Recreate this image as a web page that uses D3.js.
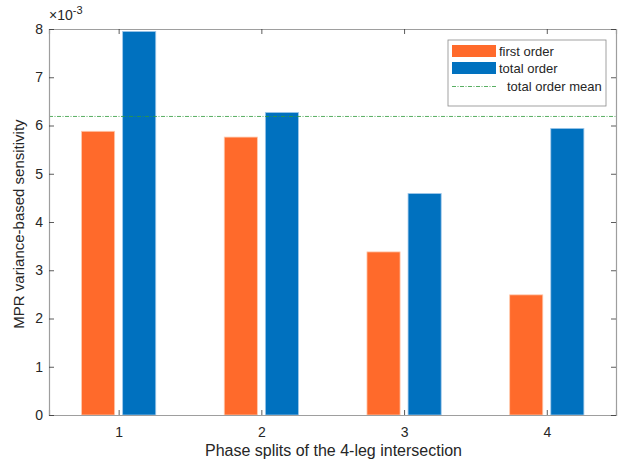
<!DOCTYPE html>
<html>
<head>
<meta charset="utf-8">
<script src="https://cdn.jsdelivr.net/npm/d3@7"></script>
<style>
  html, body { margin: 0; padding: 0; background: #fff; }
  svg { display: block; font-family: "Liberation Sans", Arial, Helvetica, sans-serif; }
</style>
</head>
<body>
<svg id="chart" width="624" height="461"></svg>
<script>
// Sensitivity indices (units of 1e-3) for each phase split
const categories = [1, 2, 3, 4];
const seriesNames = ["first order", "total order"];
const firstOrder = [5.88, 5.76, 3.38, 2.49];
const totalOrder = [7.95, 6.27, 4.59, 5.94];
const totalOrderMean = [d3.mean(totalOrder)];
const yTicks = [0, 1, 2, 3, 4, 5, 6, 7, 8];
const xLabel = "Phase splits of the 4-leg intersection";
const yLabel = "MPR variance-based sensitivity";
const meanLabel = "total order mean";

const colors = { first: "#ff6a2b", total: "#0071bf", mean: "#2f9a3a", axis: "#9e9e9e", text: "#262626" };

const svg = d3.select("#chart");
const plot = { left: 49, right: 616, top: 29, bottom: 415 };

const x = d3.scaleLinear().domain([0.512, 4.485]).range([plot.left, plot.right]);
const y = d3.scaleLinear().domain([0, 8]).range([plot.bottom, plot.top]);

// bar geometry in data units
const barW = 0.232, barOff = 0.144;
const series = [
  { name: seriesNames[0], values: firstOrder, color: colors.first, edge: "#ffc9ad", off: -barOff },
  { name: seriesNames[1], values: totalOrder, color: colors.total, edge: "#9fc8ea", off: barOff }
];

const bars = svg.append("g");
series.forEach(s => {
  bars.selectAll(null)
    .data(categories.map((c, i) => ({ c, v: s.values[i] })))
    .enter().append("rect")
    .attr("x", d => x(d.c + s.off - barW / 2))
    .attr("width", d => x(d.c + s.off + barW / 2) - x(d.c + s.off - barW / 2))
    .attr("y", d => y(d.v))
    .attr("height", d => y(0) - y(d.v))
    .attr("fill", s.color)
    .attr("stroke", s.edge)
    .attr("stroke-width", 0.8);
});

// mean line of the total-order indices
svg.append("line")
  .attr("x1", plot.left).attr("x2", plot.right)
  .attr("y1", y(totalOrderMean[0])).attr("y2", y(totalOrderMean[0]))
  .attr("stroke", colors.mean).attr("stroke-width", 0.8)
  .attr("stroke-dasharray", "4,1.5,1,1.5");

// axes (box with inward ticks)
const tickLen = 5;
const axisBottom = d3.axisBottom(x).tickValues(categories).tickSize(-tickLen).tickPadding(12).tickFormat(d3.format("d"));
const axisTop = d3.axisTop(x).tickValues(categories).tickSize(-tickLen).tickFormat("");
const axisLeft = d3.axisLeft(y).tickValues(yTicks).tickSize(-tickLen).tickPadding(6).tickFormat(d3.format("d"));
const axisRight = d3.axisRight(y).tickValues(yTicks).tickSize(-tickLen).tickFormat("");

function styleAxis(g) {
  g.select(".domain").attr("stroke", colors.axis).attr("stroke-width", 1.2);
  g.selectAll(".tick line").attr("stroke", "#333").attr("stroke-width", 0.8);
  g.selectAll(".tick text").attr("fill", colors.text).attr("font-size", 14)
    .attr("font-family", "'Liberation Sans', Arial, sans-serif");
}

svg.append("g").attr("transform", `translate(0,${plot.bottom})`).call(axisBottom).call(styleAxis);
svg.append("g").attr("transform", `translate(0,${plot.top})`).call(axisTop).call(styleAxis);
svg.append("g").attr("transform", `translate(${plot.left},0)`).call(axisLeft).call(styleAxis);
svg.append("g").attr("transform", `translate(${plot.right},0)`).call(axisRight).call(styleAxis);

// exponent marker
const expo = svg.append("text").attr("x", plot.left).attr("y", plot.top - 9)
  .attr("fill", colors.text).attr("font-size", 14);
expo.append("tspan").text("\u00d710");
expo.append("tspan").attr("dy", -6).attr("font-size", 11).text("-3");

// axis labels
svg.append("text").attr("x", (plot.left + plot.right) / 2 + 1).attr("y", 456)
  .attr("text-anchor", "middle").attr("fill", colors.text).attr("font-size", 16)
  .text(xLabel);
svg.append("text").attr("transform", `translate(24,${(plot.top + plot.bottom) / 2 + 2}) rotate(-90)`)
  .attr("text-anchor", "middle").attr("fill", colors.text).attr("font-size", 15)
  .text(yLabel);

// legend
const lg = svg.append("g").attr("transform", "translate(448,40)");
lg.append("rect").attr("width", 158).attr("height", 66)
  .attr("fill", "#fff").attr("stroke", "#8a8a8a").attr("stroke-width", 0.8);
series.forEach((s, i) => {
  const ty = 5 + i * 17;
  lg.append("rect").attr("x", 4).attr("y", ty).attr("width", 44).attr("height", 12).attr("fill", s.color);
  lg.append("text").attr("x", 51).attr("y", ty + 11).attr("font-size", 13).attr("fill", colors.text).text(s.name);
});
lg.append("line").attr("x1", 4).attr("x2", 48).attr("y1", 46.5).attr("y2", 46.5)
  .attr("stroke", colors.mean).attr("stroke-width", 0.8).attr("stroke-dasharray", "4,1.5,1,1.5");
lg.append("text").attr("x", 59).attr("y", 51).attr("font-size", 13).attr("fill", colors.text).text(meanLabel);
</script>
</body>
</html>
